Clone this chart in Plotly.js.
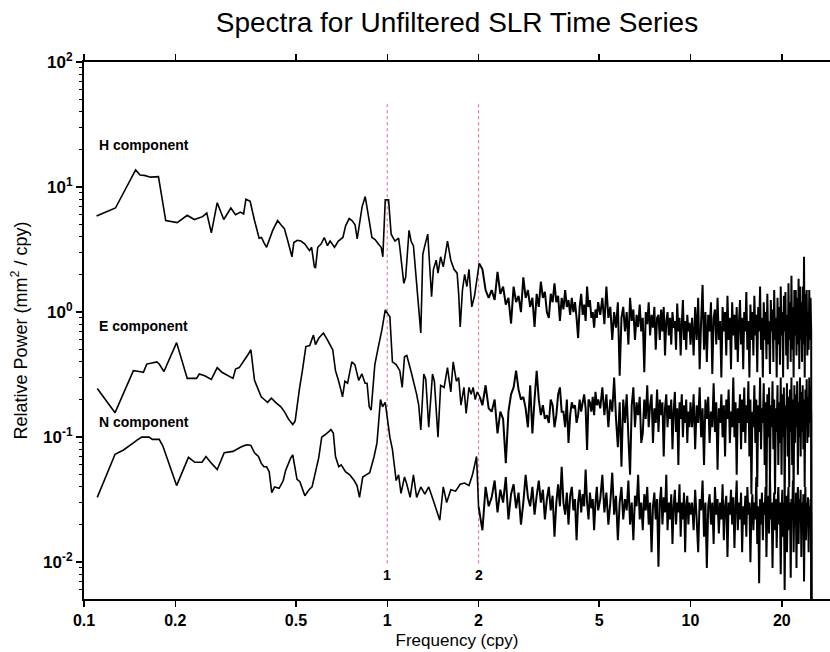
<!DOCTYPE html>
<html>
<head>
<meta charset="utf-8">
<script src="https://cdn.plot.ly/plotly-3.0.1.min.js"></script>
<style>html,body{margin:0;padding:0;background:#fff;}#chart{width:830px;height:652px;}</style>
</head>
<body>
<div id="chart"></div>
<script>
// ---- Data (frequency in cpy, power in mm^2/cpy) ----
const hFreqLow = [0.110,0.127,0.148,0.153,0.158,0.166,0.176,0.186,0.203,0.219,
  0.231,0.246,0.254,0.263,0.275,0.289,0.305,0.316,0.328,0.336,
  0.342,0.353,0.365,0.378,0.385,0.392,0.400,0.419,0.435,0.446,
  0.458,0.470,0.485,0.492,0.505,0.519,0.535,0.554,0.563,0.575,
  0.580,0.590,0.605,0.620,0.635,0.648,0.670,0.690,0.714,0.729,
  0.749,0.765,0.783,0.796,0.826,0.846,0.872,0.890,0.912,0.935,
  0.955,0.967,0.985,1.01,1.03,1.06,1.09,1.10,1.134,1.15,
  1.18,1.20,1.22,1.29,1.31,1.33,1.36,1.40,1.42,1.45,
  1.47,1.50,1.53,1.58,1.62,1.66,1.70,1.72,1.74,1.77,
  1.80,1.83,1.86,1.90,1.94,2.01];
const hPowLow = [5.86,6.8,13.7,12.5,12.4,12.0,12.1,5.4,5.2,5.95,
  5.5,5.8,6.2,4.3,7.5,5.5,6.8,6.0,6.3,6.1,
  8.0,7.7,5.4,3.9,3.95,3.6,3.3,4.5,5.4,5.0,
  4.65,3.7,2.77,3.6,3.75,3.7,3.5,3.1,3.3,2.3,
  2.25,3.3,3.5,3.95,3.4,3.7,3.3,3.7,3.95,4.9,
  5.6,5.4,5.0,3.85,6.95,8.4,5.4,3.95,3.8,3.5,
  3.3,2.77,7.9,7.9,4.2,3.7,3.9,3.3,1.7,1.9,
  4.5,3.65,3.4,0.68,2.9,3.4,4.2,1.33,2.2,2.6,
  2.05,2.77,2.3,3.7,2.6,2.2,2.05,1.4,0.76,1.5,
  2.0,1.6,2.2,1.1,1.35,2.45];

const eFreqLow = [0.1106,0.1266,0.1455,0.152,0.157,0.161,0.174,0.177,0.1835,0.202,
  0.219,0.235,0.240,0.250,0.263,0.275,0.285,0.310,0.316,0.325,
  0.348,0.355,0.365,0.384,0.393,0.403,0.415,0.428,0.446,0.458,
  0.472,0.488,0.497,0.513,0.525,0.539,0.555,0.571,0.580,0.595,
  0.616,0.635,0.661,0.675,0.690,0.703,0.712,0.725,0.740,0.764,
  0.782,0.805,0.825,0.845,0.858,0.872,0.885,0.910,0.935,0.960,
  0.985,1.01,1.02,1.04,1.07,1.10,1.12,1.14,1.16,1.20,
  1.25,1.27,1.29,1.32,1.34,1.37,1.41,1.43,1.47,1.50,
  1.54,1.58,1.62,1.65,1.69,1.72,1.75,1.79,1.82,1.86,
  1.89,1.92,1.95,1.98,2.02];
const ePowLow = [0.245,0.157,0.34,0.335,0.33,0.384,0.40,0.385,0.335,0.57,
  0.295,0.295,0.32,0.31,0.29,0.36,0.33,0.295,0.35,0.36,
  0.46,0.50,0.285,0.21,0.20,0.19,0.205,0.19,0.175,0.16,
  0.14,0.126,0.135,0.24,0.34,0.53,0.54,0.655,0.55,0.62,
  0.68,0.6,0.5,0.34,0.285,0.24,0.21,0.28,0.27,0.40,
  0.38,0.285,0.32,0.27,0.27,0.175,0.165,0.38,0.53,0.72,
  1.04,0.95,0.92,0.40,0.38,0.34,0.25,0.44,0.45,0.33,
  0.22,0.18,0.114,0.32,0.29,0.12,0.32,0.28,0.10,0.26,
  0.25,0.36,0.23,0.40,0.28,0.30,0.18,0.25,0.155,0.25,
  0.22,0.25,0.2,0.23,0.21];

const nFreqLow = [0.1106,0.1266,0.135,0.1455,0.150,0.155,0.164,0.168,0.177,0.182,
  0.202,0.221,0.232,0.245,0.2525,0.263,0.275,0.290,0.310,0.328,
  0.340,0.3465,0.355,0.365,0.376,0.384,0.392,0.400,0.408,0.416,
  0.425,0.440,0.454,0.462,0.480,0.488,0.504,0.515,0.535,0.552,
  0.565,0.594,0.608,0.625,0.640,0.652,0.664,0.675,0.692,0.705,
  0.728,0.752,0.778,0.795,0.810,0.830,0.852,0.875,0.905,0.925,
  0.950,0.965,0.985,1.02,1.04,1.07,1.09,1.11,1.14,1.16,
  1.19,1.22,1.25,1.29,1.33,1.37,1.42,1.49,1.53,1.57,
  1.62,1.68,1.74,1.80,1.86,1.91,1.97,2.00];
const nPowLow = [0.033,0.073,0.079,0.09,0.095,0.10,0.10,0.096,0.096,0.085,
  0.041,0.069,0.063,0.063,0.07,0.062,0.055,0.075,0.077,0.083,
  0.086,0.087,0.086,0.075,0.07,0.062,0.058,0.058,0.053,0.036,
  0.040,0.039,0.045,0.054,0.068,0.072,0.046,0.044,0.034,0.038,
  0.040,0.068,0.10,0.105,0.11,0.115,0.108,0.07,0.058,0.06,
  0.053,0.05,0.045,0.041,0.033,0.048,0.05,0.052,0.07,0.09,
  0.2,0.175,0.19,0.10,0.08,0.045,0.05,0.0355,0.048,0.042,
  0.033,0.05,0.033,0.04,0.035,0.04,0.031,0.0217,0.04,0.03,
  0.038,0.037,0.042,0.043,0.041,0.05,0.07,0.028];

// shared high-frequency grid (cpy)
const hiFreq = [2.06,2.11,2.16,2.21,2.26,2.31,2.36,2.41,2.46,2.51,
  2.56,2.61,2.66,2.71,2.76,2.81,2.86,2.91,2.96,3.01,
  3.06,3.11,3.16,3.21,3.26,3.31,3.36,3.41,3.46,3.51,
  3.56,3.61,3.66,3.71,3.76,3.81,3.86,3.91,3.96,4.01,
  4.06,4.11,4.16,4.21,4.26,4.31,4.36,4.41,4.46,4.51,
  4.56,4.61,4.66,4.71,4.76,4.81,4.86,4.91,4.96,
  5.04,5.12,5.20,5.28,5.36,5.44,5.52,5.60,5.68,5.76,
  5.84,5.92,6.00,6.08,6.16,6.24,6.32,6.40,6.48,6.56,
  6.64,6.72,6.80,6.88,6.96,7.04,7.12,7.20,7.28,7.36,
  7.44,7.52,7.60,7.68,7.76,7.84,7.92,8.00,8.08,8.16,
  8.24,8.32,8.40,8.48,8.56,8.64,8.72,8.80,8.88,8.96,
  9.04,9.12,9.20,9.28,9.36,9.44,9.52,9.60,9.68,9.76,
  9.84,9.92,10.00,
  10.12,10.24,10.36,10.48,10.60,10.72,10.84,10.96,11.08,11.20,
  11.32,11.44,11.56,11.68,11.80,11.92,12.04,12.16,12.28,12.40,
  12.52,12.64,12.76,12.88,13.00,13.12,13.24,13.36,13.48,13.60,
  13.72,13.84,13.96,14.08,14.20,14.32,14.44,14.56,14.68,14.80,
  14.92,15.04,15.16,15.28,15.40,15.52,15.64,15.76,15.88,16.00,
  16.12,16.24,16.36,16.48,16.60,16.72,16.84,16.96,17.08,17.20,
  17.32,17.44,17.56,17.68,17.80,17.92,18.04,18.16,18.28,18.40,
  18.52,18.64,18.76,18.88,19.00,19.12,19.24,19.36,19.48,19.60,
  19.72,19.84,19.96,20.08,20.20,20.32,20.44,20.56,20.68,20.80,
  20.92,21.04,21.16,21.28,21.40,21.52,21.64,21.76,21.88,22.00,
  22.12,22.24,22.36,22.48,22.60,22.72,22.84,22.96,23.08,23.20,
  23.32,23.44,23.56,23.68,23.80,23.92,24.04,24.16,24.28,24.40,
  24.52,24.64,24.76,24.88,25.00,25.10];

const hPowHi = [2.2,1.5,1.3,1.5,1.25,2.1,1.4,1.6,1.15,1.3,
  0.81,1.6,1.2,1.35,1.0,1.9,1.3,1.5,1.1,1.3,
  0.76,1.4,1.1,1.75,1.3,1.45,1.0,0.9,1.4,1.2,
  1.7,1.2,1.35,0.85,1.3,1.05,1.5,1.1,1.25,0.95,
  1.3,1.0,1.2,0.9,0.62,1.1,1.4,0.95,1.15,0.85,
  1.6,1.1,1.25,0.9,1.0,0.75,1.05,0.9,1.2,
  0.95,1.3,0.8,1.6,0.9,1.1,0.6,1.0,0.75,1.2,
  0.31,0.9,1.1,0.7,1.0,0.55,1.3,0.85,1.05,0.6,
  0.95,0.76,1.15,0.7,0.9,0.33,1.0,0.8,1.2,0.65,
  0.95,0.75,1.1,0.5,0.9,0.95,0.6,1.05,0.7,1.1,
  0.45,0.85,1.0,0.65,0.9,0.55,1.0,0.75,0.85,0.5,
  1.17,0.7,0.9,0.45,0.8,1.25,0.6,0.85,0.5,0.95,
  0.7,0.82,0.55,
  0.9,0.45,1.1,0.6,1.3,0.35,0.85,1.65,0.5,1.0,
  0.4,0.95,0.7,1.2,0.32,0.9,1.05,0.55,1.3,0.6,
  0.85,0.3,1.1,0.7,1.0,0.45,1.35,0.6,0.9,0.35,
  1.2,0.65,0.95,0.5,1.1,0.4,0.8,1.25,0.55,0.9,
  0.35,1.0,0.7,1.45,0.5,0.85,0.3,1.15,0.6,1.0,
  0.45,1.35,0.65,0.95,0.33,1.1,0.7,1.6,0.5,0.9,
  0.3,1.2,0.6,1.0,0.42,1.4,0.55,0.85,0.32,1.25,
  0.7,1.05,0.4,1.5,0.6,0.9,0.3,1.3,0.55,1.1,
  0.38,1.6,0.65,1.0,0.3,1.35,0.7,1.45,0.45,0.95,
  0.35,1.7,0.6,1.2,0.4,1.95,0.5,1.1,0.3,1.5,
  0.65,1.5,0.45,1.3,0.55,1.85,0.35,1.6,0.6,1.2,
  0.4,1.6,0.55,2.77,0.3,1.4,0.65,1.5,0.45,1.0,
  0.5,1.5,0.6,1.3,0.7,0.0001];

const ePowHi = [0.18,0.26,0.17,0.16,0.2,0.107,0.16,0.14,0.062,0.16,
  0.22,0.25,0.34,0.24,0.2,0.21,0.17,0.12,0.26,0.107,
  0.2,0.34,0.2,0.15,0.18,0.14,0.15,0.13,0.2,0.18,
  0.12,0.15,0.22,0.25,0.16,0.16,0.12,0.2,0.09,0.15,
  0.19,0.17,0.18,0.13,0.15,0.2,0.16,0.19,0.22,0.17,
  0.079,0.2,0.19,0.16,0.21,0.15,0.23,0.18,0.2,
  0.17,0.25,0.15,0.22,0.12,0.2,0.16,0.3,0.14,0.083,
  0.19,0.058,0.2,0.13,0.22,0.1,0.05,0.18,0.25,0.12,
  0.19,0.15,0.21,0.09,0.107,0.2,0.14,0.26,0.12,0.18,
  0.22,0.09,0.17,0.13,0.24,0.11,0.2,0.15,0.19,0.07,
  0.17,0.22,0.12,0.18,0.14,0.2,0.08,0.16,0.23,0.11,
  0.17,0.06,0.19,0.14,0.22,0.1,0.18,0.13,0.2,0.09,
  0.16,0.12,0.19,
  0.12,0.22,0.08,0.18,0.13,0.25,0.1,0.17,0.06,0.2,
  0.14,0.21,0.09,0.16,0.12,0.27,0.11,0.19,0.055,0.17,
  0.13,0.22,0.1,0.18,0.07,0.2,0.14,0.24,0.09,0.16,
  0.12,0.3,0.1,0.19,0.05,0.17,0.13,0.22,0.08,0.2,
  0.11,0.25,0.09,0.18,0.13,0.28,0.07,0.2,0.035,0.16,
  0.12,0.26,0.09,0.2,0.04,0.18,0.11,0.3,0.08,0.17,
  0.13,0.27,0.06,0.19,0.03,0.22,0.1,0.25,0.045,0.18,
  0.12,0.28,0.08,0.2,0.035,0.17,0.11,0.26,0.06,0.19,
  0.09,0.3,0.05,0.22,0.1,0.25,0.028,0.18,0.12,0.27,
  0.07,0.21,0.04,0.24,0.11,0.3,0.06,0.2,0.03,0.26,
  0.09,0.22,0.12,0.28,0.05,0.19,0.1,0.3,0.07,0.23,
  0.11,0.26,0.08,0.2,0.04,0.24,0.12,0.29,0.09,0.21,
  0.1,0.3,0.13,0.25,0.15,0.0001];

const nPowHi = [0.018,0.04,0.028,0.033,0.045,0.025,0.038,0.03,0.048,0.022,
  0.035,0.042,0.027,0.036,0.02,0.03,0.05,0.033,0.028,0.04,
  0.024,0.034,0.045,0.03,0.038,0.022,0.032,0.04,0.026,0.034,
  0.016,0.03,0.042,0.028,0.058,0.03,0.024,0.036,0.02,0.034,
  0.04,0.026,0.032,0.015,0.03,0.038,0.025,0.035,0.028,0.055,
  0.03,0.022,0.036,0.027,0.032,0.018,0.03,0.04,0.026,
  0.032,0.05,0.025,0.036,0.02,0.03,0.052,0.024,0.034,0.015,
  0.03,0.04,0.022,0.032,0.026,0.045,0.02,0.03,0.015,0.034,
  0.028,0.05,0.022,0.03,0.018,0.035,0.026,0.04,0.02,0.03,
  0.012,0.028,0.036,0.022,0.032,0.0092,0.03,0.04,0.02,0.033,
  0.025,0.05,0.018,0.03,0.022,0.035,0.014,0.028,0.038,0.02,
  0.03,0.025,0.042,0.016,0.03,0.022,0.036,0.012,0.028,0.034,
  0.02,0.03,0.024,
  0.03,0.018,0.038,0.022,0.012,0.032,0.026,0.045,0.016,0.03,
  0.009,0.028,0.035,0.02,0.03,0.014,0.04,0.024,0.032,0.017,
  0.03,0.022,0.042,0.015,0.028,0.034,0.011,0.03,0.024,0.038,
  0.02,0.033,0.013,0.028,0.045,0.018,0.03,0.022,0.036,0.012,
  0.028,0.02,0.034,0.016,0.04,0.024,0.03,0.01,0.026,0.035,
  0.018,0.03,0.022,0.048,0.014,0.028,0.0068,0.032,0.02,0.036,
  0.015,0.03,0.024,0.04,0.011,0.028,0.034,0.017,0.05,0.022,
  0.03,0.009,0.026,0.036,0.018,0.032,0.013,0.028,0.04,0.02,
  0.03,0.008,0.025,0.038,0.016,0.03,0.006,0.026,0.034,0.012,
  0.028,0.04,0.018,0.03,0.0075,0.032,0.022,0.045,0.012,0.03,
  0.02,0.036,0.009,0.028,0.04,0.014,0.032,0.024,0.038,0.011,
  0.03,0.018,0.035,0.007,0.026,0.04,0.015,0.03,0.022,0.033,
  0.012,0.028,0.02,0.032,0.024,0.0001];

// reference frequencies (annual, semi-annual) and their labels
const guideFreqs = [1, 2];
const guideLabels = ['1', '2'];
const guideSpan = [0.0098, 48];
const guideLabelLevel = 0.0079;

// component labels and where they sit (frequency, power)
const compNames = ['H component', 'E component', 'N component'];
const compLabelFreq = 0.110;
const compLabelPow = [21.7, 0.77, 0.133];

// tick labels
const xTickVals = [0.1, 0.2, 0.5, 1, 2, 5, 10, 20];
const xTickText = ['0.1', '0.2', '0.5', '1', '2', '5', '10', '20'];
const yTickVals = [0.01, 0.1, 1, 10, 100];
const yTickText = ['10<sup>-2</sup>', '10<sup>-1</sup>', '10<sup>0</sup>', '10<sup>1</sup>', '10<sup>2</sup>'];
const yMinorVals = [0.006,0.007,0.008,0.009,0.02,0.03,0.04,0.05,0.06,0.07,0.08,0.09,
  0.2,0.3,0.4,0.5,0.6,0.7,0.8,0.9,2,3,4,5,6,7,8,9,20,30,40,50,60,70,80,90];

// ---- Build traces ----
const FONT = 'Liberation Sans, Arial, Helvetica, sans-serif';
const traces = [];
guideFreqs.forEach(f => {
  traces.push({
    x: [f, f], y: guideSpan, mode: 'lines', hoverinfo: 'skip',
    line: {color: '#e8808a', width: 1.2, dash: '3px,3px'}
  });
});
const series = [
  [hFreqLow, hPowLow, hPowHi],
  [eFreqLow, ePowLow, ePowHi],
  [nFreqLow, nPowLow, nPowHi]
];
series.forEach(s => {
  // low-frequency part
  traces.push({
    x: s[0], y: s[1], mode: 'lines',
    line: {color: '#000', width: 1.6, simplify: false}
  });
  // dense high-frequency part (joined to the last low-frequency point)
  const lastF = s[0][s[0].length - 1], lastP = s[1][s[1].length - 1];
  traces.push({
    x: [lastF].concat(hiFreq), y: [lastP].concat(s[2]), mode: 'lines',
    line: {color: '#000', width: 2.0, simplify: false}
  });
});

const annotations = [];
guideFreqs.forEach((f, i) => {
  annotations.push({
    x: Math.log10(f), y: Math.log10(guideLabelLevel), xref: 'x', yref: 'y',
    text: guideLabels[i], showarrow: false, xanchor: 'center', yanchor: 'middle',
    font: {family: FONT, size: 14, weight: 'bold', color: '#000'}
  });
});
compNames.forEach((t, i) => {
  annotations.push({
    x: Math.log10(compLabelFreq), y: Math.log10(compLabelPow[i]), xref: 'x', yref: 'y',
    text: t, showarrow: false, xanchor: 'left', yanchor: 'middle',
    font: {family: FONT, size: 14, weight: 'bold', color: '#000'}
  });
});

const layout = {
  width: 830, height: 652,
  margin: {l: 84, r: 0, t: 62, b: 53, pad: 0},
  paper_bgcolor: '#fff', plot_bgcolor: '#fff',
  showlegend: false,
  font: {family: FONT, color: '#000'},
  title: {
    text: 'Spectra for Unfiltered SLR Time Series',
    font: {family: FONT, size: 28, color: '#000'},
    x: 0.5, xref: 'paper', xanchor: 'center',
    y: 1 - 22 / 652, yref: 'container', yanchor: 'middle'
  },
  xaxis: {
    type: 'log', range: [-1, 1.46],
    tickmode: 'array', tickvals: xTickVals, ticktext: xTickText,
    ticks: 'outside', ticklen: 6, tickwidth: 1.5, tickcolor: '#000',
    showline: true, linewidth: 2, linecolor: '#000', mirror: 'ticks',
    showgrid: false, zeroline: false,
    tickfont: {family: FONT, size: 16, weight: 'bold', color: '#000'},
    title: {text: 'Frequency (cpy)', font: {family: FONT, size: 17, color: '#000'}, standoff: 6}
  },
  yaxis: {
    type: 'log', range: [Math.log10(0.00508), 2],
    tickmode: 'array', tickvals: yTickVals, ticktext: yTickText,
    ticks: 'outside', ticklen: 6, tickwidth: 1.5, tickcolor: '#000',
    minor: {tickmode: 'array', tickvals: yMinorVals, ticks: 'outside', ticklen: 3, tickwidth: 1, tickcolor: '#000', showgrid: false},
    showline: true, linewidth: 2, linecolor: '#000', mirror: false,
    showgrid: false, zeroline: false,
    tickfont: {family: FONT, size: 17, weight: 'bold', color: '#000'},
    title: {text: 'Relative Power (mm<sup>2</sup> / cpy)', font: {family: FONT, size: 18, color: '#000'}, standoff: 11}
  },
  annotations: annotations
};

Plotly.newPlot('chart', traces, layout, {staticPlot: true, displayModeBar: false});
</script>
</body>
</html>
